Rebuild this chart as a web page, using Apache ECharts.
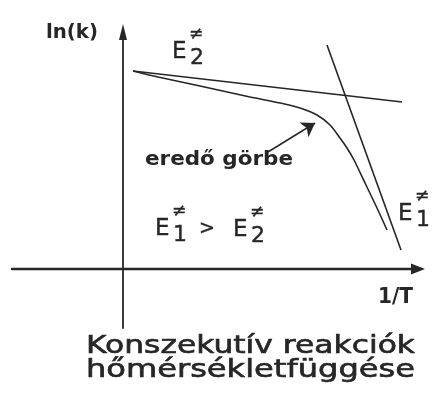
<!DOCTYPE html>
<html>
<head>
<meta charset="utf-8">
<title>Konszekutív reakciók hőmérsékletfüggése</title>
<script src="https://cdn.jsdelivr.net/npm/echarts@6/dist/echarts.min.js"></script>
<style>
  html, body { margin: 0; padding: 0; background: #fff; }
  #main { width: 433px; height: 403px; }
</style>
</head>
<body>
<div id="main"></div>
<script>
// 1/T (arbitrary units) vs ln(k)
var e2Line = [[1.0, 19.8], [27.9, 16.7]];
var e1Line = [[20.4, 22.4], [27.8, 1.9]];
var resultCurve = [
  [1.0, 19.8], [3.5, 19.2], [7.7, 18.3], [12.7, 17.2], [15.7, 16.6],
  [17.7, 16.1], [19.4, 15.4], [20.7, 14.4], [21.7, 13.1], [22.4, 12.1],
  [23.1, 10.9], [24.3, 8.4], [25.4, 6.1], [26.4, 3.9]
];
var pointerArrow = [[14.5, 11.7], [19.2, 14.6]];

var xRange = [-11.1, 29.5];
var yRange = [-5.9, 23.7];

var INK = '#262626';
var FONT = '"DejaVu Sans", "Liberation Sans", sans-serif';

// the scan is stretched sideways, so texts are scaled to its widths
var measureCtx = document.createElement('canvas').getContext('2d');
function fitText(text, left, cy, size, weight, width, thick) {
  var font = weight + ' ' + size + 'px ' + FONT;
  measureCtx.font = font;
  var sx = width / measureCtx.measureText(text).width;
  return {
    type: 'text', x: left, y: cy, scaleX: sx, silent: true,
    style: {
      text: text, font: font, fill: INK, stroke: thick ? INK : null, lineWidth: thick || 0,
      textAlign: 'left', textVerticalAlign: 'middle'
    }
  };
}
function plainText(text, left, cy, size) {
  return {
    type: 'text', x: left, y: cy, silent: true,
    style: {
      text: text, font: size + 'px ' + FONT, fill: INK, stroke: INK, lineWidth: 0.4,
      textAlign: 'left', textVerticalAlign: 'middle'
    }
  };
}
// E with stacked ≠ and index
function eLabel(left, base, digit) {
  return [
    plainText('E', left, base - 8, 23),
    plainText('≠', left + 17, base - 25, 17),
    plainText(digit, left + 18, base - 2, 22)
  ];
}

var texts = [
  fitText('ln(k)', 46, 33, 19, 'bold', 52),
  fitText('1/T', 378, 297, 22, 'bold', 35),
  fitText('eredő görbe', 145, 160, 19, 'bold', 148),
  fitText('Konszekutív reakciók', 86, 347, 24, 'normal', 329, 0.6),
  fitText('hőmérsékletfüggése', 86, 371, 24, 'normal', 329, 0.6),
  plainText('>', 199, 229, 19)
].concat(eLabel(172, 60, '2'), eLabel(398, 222, '1'), eLabel(155, 237, '1'), eLabel(233, 238, '2'));

function axis(range, width, arrow) {
  return {
    type: 'value', min: range[0], max: range[1],
    axisLine: {
      onZero: true, symbol: ['none', 'triangle'], symbolSize: arrow,
      lineStyle: { color: INK, width: width }
    },
    axisTick: { show: false }, axisLabel: { show: false }, splitLine: { show: false }
  };
}

var lineStyle = { color: INK, width: 1.6 };

var chart = echarts.init(document.getElementById('main'));
chart.setOption({
  animation: false,
  backgroundColor: '#ffffff',
  grid: { left: 12, right: 15, top: 32, bottom: 75 },
  xAxis: axis(xRange, 2.4, [11, 14]),
  yAxis: axis(yRange, 1.8, [8, 16]),
  series: [
    { type: 'line', data: e2Line, showSymbol: false, lineStyle: lineStyle, silent: true },
    { type: 'line', data: e1Line, showSymbol: false, lineStyle: lineStyle, silent: true },
    {
      type: 'line', data: resultCurve, showSymbol: false, smooth: 0.3, lineStyle: lineStyle, silent: true,
      markLine: {
        silent: true, symbol: ['none', 'arrow'], symbolSize: 13,
        label: { show: false },
        lineStyle: { color: INK, width: 1.5, type: 'solid' },
        data: [[{ coord: pointerArrow[0] }, { coord: pointerArrow[1] }]]
      }
    }
  ],
  graphic: texts
});
</script>
</body>
</html>
